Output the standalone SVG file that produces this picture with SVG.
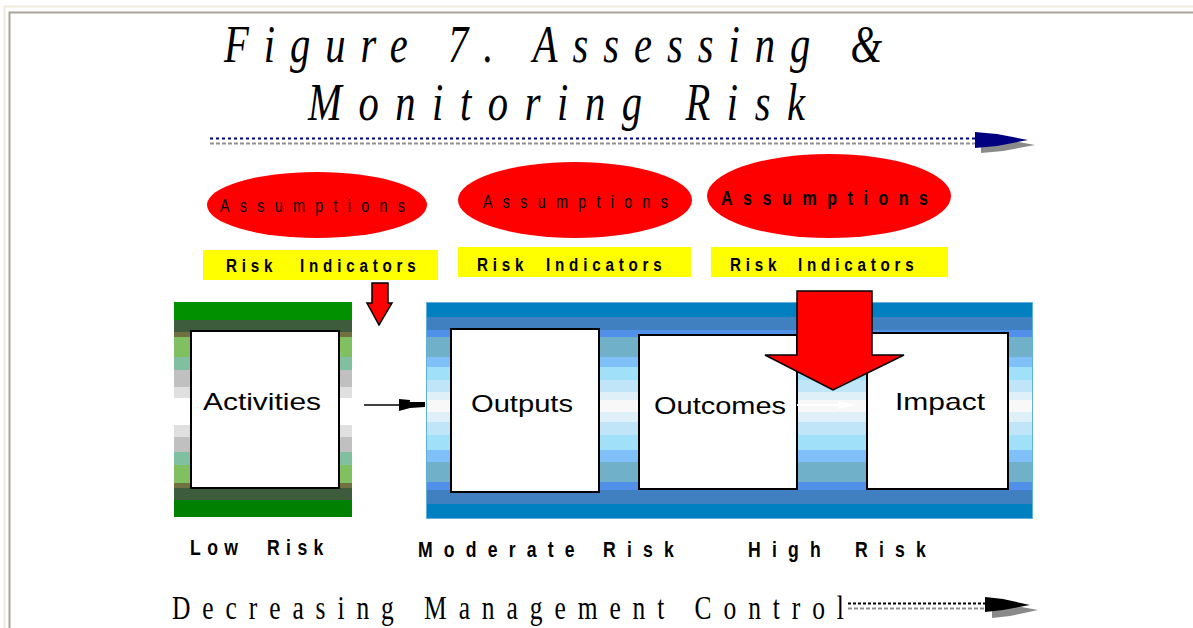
<svg xmlns="http://www.w3.org/2000/svg" width="1193" height="628" viewBox="0 0 1193 628">
<defs>
<style>
.title{font-family:"Liberation Serif",serif;font-style:italic;font-size:52px;fill:#000}
.assum{font-family:"Liberation Sans",Arial,sans-serif;font-size:18px;fill:#000}
.ri{font-family:"Liberation Sans",Arial,sans-serif;font-weight:bold;font-size:19px;letter-spacing:6px;fill:#000}
.box{fill:#fff;stroke:#000;stroke-width:2}
.lbl{font-family:"Liberation Sans",Arial,sans-serif;font-size:24px;fill:#000}
.risk{font-family:"Liberation Sans",Arial,sans-serif;font-weight:bold;font-size:22px;fill:#000}
.red{fill:#ff0000;stroke:#000;stroke-width:1.5;stroke-linejoin:miter}
</style>
<linearGradient id="gGreen" x1="0" y1="0" x2="0" y2="1">
<stop offset="0" stop-color="#009000"/><stop offset=".084" stop-color="#009000"/>
<stop offset=".084" stop-color="#3c5c3c"/><stop offset=".14" stop-color="#3c5c3c"/>
<stop offset=".14" stop-color="#707040"/><stop offset=".163" stop-color="#707040"/>
<stop offset=".163" stop-color="#80c060"/><stop offset=".256" stop-color="#80c060"/>
<stop offset=".256" stop-color="#80c0a0"/><stop offset=".316" stop-color="#80c0a0"/>
<stop offset=".316" stop-color="#c0c0c0"/><stop offset=".395" stop-color="#c0c0c0"/>
<stop offset=".395" stop-color="#e0e0e0"/><stop offset=".447" stop-color="#e0e0e0"/>
<stop offset=".447" stop-color="#ffffff"/><stop offset=".572" stop-color="#ffffff"/>
<stop offset=".572" stop-color="#e0e0e0"/><stop offset=".628" stop-color="#e0e0e0"/>
<stop offset=".628" stop-color="#c0c0c0"/><stop offset=".698" stop-color="#c0c0c0"/>
<stop offset=".698" stop-color="#80c0a0"/><stop offset=".758" stop-color="#80c0a0"/>
<stop offset=".758" stop-color="#80c060"/><stop offset=".842" stop-color="#80c060"/>
<stop offset=".842" stop-color="#707040"/><stop offset=".865" stop-color="#707040"/>
<stop offset=".865" stop-color="#3c5c3c"/><stop offset=".921" stop-color="#3c5c3c"/>
<stop offset=".921" stop-color="#008000"/><stop offset="1" stop-color="#008000"/>
</linearGradient>
<linearGradient id="gBlue" x1="0" y1="0" x2="0" y2="1">
<stop offset="0" stop-color="#0080c0"/><stop offset=".069" stop-color="#0080c0"/>
<stop offset=".069" stop-color="#4080c0"/><stop offset=".129" stop-color="#4080c0"/>
<stop offset=".129" stop-color="#5090e8"/><stop offset=".161" stop-color="#5090e8"/>
<stop offset=".161" stop-color="#70b0c8"/><stop offset=".253" stop-color="#70b0c8"/>
<stop offset=".253" stop-color="#80c0f8"/><stop offset=".3" stop-color="#80c0f8"/>
<stop offset=".3" stop-color="#a0e0f8"/><stop offset=".359" stop-color="#a0e0f8"/>
<stop offset=".359" stop-color="#c0e4f8"/><stop offset=".415" stop-color="#c0e4f8"/>
<stop offset=".415" stop-color="#e0f0f8"/><stop offset=".452" stop-color="#e0f0f8"/>
<stop offset=".452" stop-color="#f8f8f8"/><stop offset=".507" stop-color="#f8f8f8"/>
<stop offset=".507" stop-color="#e0f0f8"/><stop offset=".553" stop-color="#e0f0f8"/>
<stop offset=".553" stop-color="#c0e4f8"/><stop offset=".613" stop-color="#c0e4f8"/>
<stop offset=".613" stop-color="#a0e0f8"/><stop offset=".682" stop-color="#a0e0f8"/>
<stop offset=".682" stop-color="#80c0f8"/><stop offset=".737" stop-color="#80c0f8"/>
<stop offset=".737" stop-color="#70b0c8"/><stop offset=".829" stop-color="#70b0c8"/>
<stop offset=".829" stop-color="#5090e8"/><stop offset=".866" stop-color="#5090e8"/>
<stop offset=".866" stop-color="#4080c0"/><stop offset=".935" stop-color="#4080c0"/>
<stop offset=".935" stop-color="#0080c0"/><stop offset="1" stop-color="#0080c0"/>
</linearGradient>
</defs>
<rect width="1193" height="628" fill="#fff"/>
<g id="frame">
<path d="M4.5,628 V6.5 H1193" fill="none" stroke="#eeebdc" stroke-width="2"/>
<path d="M9.5,628 V12.5 H1193" fill="none" stroke="#a8a598" stroke-width="2"/>
</g>
<g id="title">
<text class="title" transform="scale(0.78,1)" x="287.2" y="62" textLength="843.6" lengthAdjust="spacing">Figure 7. Assessing &amp;</text>
<text class="title" transform="scale(0.78,1)" x="394.9" y="120" textLength="637.2" lengthAdjust="spacing">Monitoring Risk</text>
</g>
<g id="assumption1">
<ellipse cx="317" cy="205" rx="110" ry="33" fill="#ff0000"/>
<text class="assum" transform="scale(0.8,1)" x="275" y="212" textLength="231.25" lengthAdjust="spacing">Assumptions</text>
</g>
<g id="assumption2">
<ellipse cx="575" cy="200" rx="117" ry="38" fill="#ff0000"/>
<text class="assum" transform="scale(0.8,1)" x="603.75" y="208" textLength="231.25" lengthAdjust="spacing">Assumptions</text>
</g>
<g id="assumption3">
<ellipse cx="829" cy="196" rx="122" ry="42" fill="#ff0000"/>
<text class="assum" transform="scale(0.8,1)" x="901.25" y="205" style="font-weight:bold;font-size:20px" textLength="258.75" lengthAdjust="spacing">Assumptions</text>
</g>
<g id="riskind1">
<rect x="203" y="250" width="235" height="30" fill="#ffff00"/>
<text class="ri" transform="scale(0.8,1)" y="272"><tspan x="282.5">Risk</tspan> <tspan x="375">Indicators</tspan></text>
</g>
<g id="riskind2">
<rect x="458" y="247" width="233" height="30" fill="#ffff00"/>
<text class="ri" transform="scale(0.8,1)" y="271"><tspan x="596.25">Risk</tspan> <tspan x="682.5">Indicators</tspan></text>
</g>
<g id="riskind3">
<rect x="711" y="247" width="237" height="30" fill="#ffff00"/>
<text class="ri" transform="scale(0.8,1)" y="271"><tspan x="912.5">Risk</tspan> <tspan x="997.5">Indicators</tspan></text>
</g>
<g id="lowband">
<rect x="174" y="302" width="178" height="215" fill="url(#gGreen)"/>
</g>
<g id="highband">
<rect x="426.5" y="302.5" width="606" height="216" fill="url(#gBlue)" stroke="#60b0e0" stroke-width="1"/>
</g>
<g id="activities">
<rect class="box" x="191" y="331" width="148" height="157"/>
<text class="lbl" x="203" y="410" textLength="118" lengthAdjust="spacingAndGlyphs">Activities</text>
</g>
<g id="outputs">
<rect class="box" x="451" y="329" width="148" height="163"/>
<text class="lbl" x="471" y="412" textLength="102" lengthAdjust="spacingAndGlyphs">Outputs</text>
</g>
<g id="outcomes">
<rect class="box" x="639" y="335" width="158" height="154"/>
<text class="lbl" x="654" y="414" textLength="132" lengthAdjust="spacingAndGlyphs">Outcomes</text>
</g>
<g id="impact">
<rect class="box" x="867" y="333" width="141" height="156"/>
<text class="lbl" x="895" y="410" textLength="90" lengthAdjust="spacingAndGlyphs">Impact</text>
</g>
<g id="connectors">
<line x1="210" y1="138.5" x2="978" y2="138.5" stroke="#000080" stroke-width="2" stroke-dasharray="3,3"/>
<line x1="210" y1="143.5" x2="978" y2="143.5" stroke="#909090" stroke-width="2" stroke-dasharray="4,2"/>
<polygon points="981,137 1003,139 1035,145 1003,151 981,153" fill="#8a8a8a"/>
<polygon points="975,132 997,134 1028,140 997,146 975,148" fill="#000080"/>
<line x1="364" y1="405" x2="402" y2="405" stroke="#000" stroke-width="1.5"/>
<polygon points="399,399 410,400 410,402 425,402 425,407 410,408 399,411" fill="#000"/>
<line x1="797" y1="405" x2="850" y2="405" stroke="#fff" stroke-width="2"/>
<polygon points="838,401 856,405 838,409" fill="#fff"/>
<polygon class="red" points="372,283 388,283 388,303 392,303 379,325 367,303 372,303"/>
<polygon class="red" points="797,291 872,291 872,355 904,355 833,390 765,355 797,355"/>
<line x1="848" y1="603.5" x2="988" y2="603.5" stroke="#000" stroke-width="2" stroke-dasharray="3,2"/>
<line x1="848" y1="608.5" x2="988" y2="608.5" stroke="#909090" stroke-width="2" stroke-dasharray="4,2"/>
<polygon points="992,603 1010,605 1038,610 1010,616 992,618" fill="#8a8a8a"/>
<polygon points="985,597 1003,599 1030,605 1003,610 985,612" fill="#000"/>
</g>
<g id="risklabels">
<text class="risk" transform="scale(0.8,1)" y="555" style="letter-spacing:8px"><tspan x="237.5">Low</tspan> <tspan x="333.75">Risk</tspan></text>
<text class="risk" transform="scale(0.8,1)" y="557" style="letter-spacing:14px"><tspan x="522.5">Moderate</tspan> <tspan x="753.75">Risk</tspan></text>
<text class="risk" transform="scale(0.8,1)" y="557" style="letter-spacing:14px"><tspan x="935">High</tspan> <tspan x="1068.75">Risk</tspan></text>
</g>
<g id="footer">
<text transform="scale(0.75,1)" x="229.3" y="619" style="font-family:'Liberation Serif',serif;font-size:34px;fill:#000" textLength="896" lengthAdjust="spacing">Decreasing Management Control</text>
</g>
</svg>
